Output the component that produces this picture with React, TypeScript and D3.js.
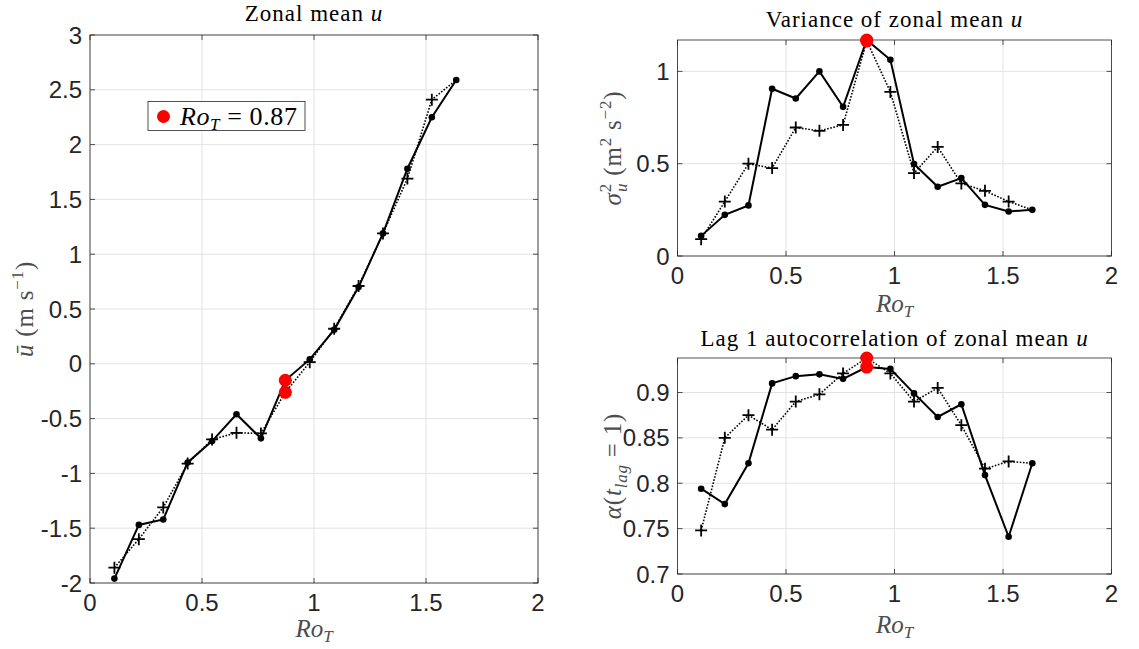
import React from "react";
import * as d3 from "d3";

const roT = [0.109, 0.218, 0.327, 0.436, 0.545, 0.654, 0.763, 0.872, 0.981, 1.09, 1.199, 1.308, 1.417, 1.526, 1.635];

const meanSolid = [-1.96, -1.47, -1.42, -0.9, -0.705, -0.46, -0.68, -0.15, 0.04, 0.31, 0.7, 1.19, 1.78, 2.25, 2.59];
const meanDotted = [-1.86, -1.6, -1.31, -0.91, -0.69, -0.63, -0.635, -0.26, 0.015, 0.32, 0.71, 1.19, 1.69, 2.41, 2.59];

const varSolid = [0.109, 0.223, 0.274, 0.906, 0.853, 1.0, 0.808, 1.17, 1.063, 0.498, 0.375, 0.422, 0.277, 0.241, 0.25];
const varDotted = [0.091, 0.295, 0.5, 0.476, 0.696, 0.678, 0.71, 1.165, 0.889, 0.449, 0.591, 0.393, 0.353, 0.295, 0.25];

const acSolid = [0.794, 0.777, 0.822, 0.91, 0.918, 0.92, 0.915, 0.928, 0.926, 0.899, 0.873, 0.887, 0.809, 0.741, 0.822];
const acDotted = [0.748, 0.85, 0.875, 0.859, 0.89, 0.898, 0.921, 0.938, 0.921, 0.89, 0.905, 0.864, 0.816, 0.824, 0.822];

const redIndex = 7;
const xTicks = [0, 0.5, 1, 1.5, 2];
const meanTicks = [-2, -1.5, -1, -0.5, 0, 0.5, 1, 1.5, 2, 2.5, 3];
const varTicks = [0, 0.5, 1];
const acTicks = [0.7, 0.75, 0.8, 0.85, 0.9];
const legendLabel = "0.87";

const SANS = "'Liberation Sans', Arial, sans-serif";
const SERIF = "'Liberation Serif', 'Times New Roman', serif";
const AX = "#262626";
const LAB = "#4d4d4d";

type PanelProps = {
  left: number; right: number; top: number; bottom: number;
  yDomain: [number, number]; yTicks: number[];
  solid: number[]; dotted: number[];
  title: React.ReactNode; titleY: number;
  yLabel: React.ReactNode; yLabelX: number;
  xLabelY: number;
};

function fmt(v: number) {
  return String(v);
}

function Panel(p: PanelProps) {
  const x = d3.scaleLinear().domain([0, 2]).range([p.left, p.right]);
  const y = d3.scaleLinear().domain(p.yDomain).range([p.bottom, p.top]);
  const line = d3.line<number>().x((_, i) => x(roT[i])).y((d) => y(d));
  const cx = (p.left + p.right) / 2;
  const cy = (p.top + p.bottom) / 2;
  const tl = 5;
  return (
    <g>
      {xTicks.map((t) => (
        <line key={"gx" + t} x1={x(t)} x2={x(t)} y1={p.top} y2={p.bottom} stroke="#e3e3e3" strokeWidth={1} />
      ))}
      {p.yTicks.map((t) => (
        <line key={"gy" + t} x1={p.left} x2={p.right} y1={y(t)} y2={y(t)} stroke="#e3e3e3" strokeWidth={1} />
      ))}
      <rect x={p.left} y={p.top} width={p.right - p.left} height={p.bottom - p.top} fill="none" stroke={AX} strokeWidth={0.8} />
      {xTicks.map((t) => (
        <g key={"tx" + t}>
          <line x1={x(t)} x2={x(t)} y1={p.bottom} y2={p.bottom - tl} stroke={AX} strokeWidth={0.8} />
          <line x1={x(t)} x2={x(t)} y1={p.top} y2={p.top + tl} stroke={AX} strokeWidth={0.8} />
          <text x={x(t)} y={p.bottom + 28} textAnchor="middle" fontFamily={SANS} fontSize={24} fill={AX}>{fmt(t)}</text>
        </g>
      ))}
      {p.yTicks.map((t) => (
        <g key={"ty" + t}>
          <line x1={p.left} x2={p.left + tl} y1={y(t)} y2={y(t)} stroke={AX} strokeWidth={0.8} />
          <line x1={p.right} x2={p.right - tl} y1={y(t)} y2={y(t)} stroke={AX} strokeWidth={0.8} />
          <text x={p.left - 8} y={y(t) + 8.5} textAnchor="end" fontFamily={SANS} fontSize={24} fill={AX}>{fmt(t)}</text>
        </g>
      ))}
      <path d={line(p.dotted) || ""} fill="none" stroke="#000" strokeWidth={1.6} strokeDasharray="1.6 1.6" />
      <path d={line(p.solid) || ""} fill="none" stroke="#000" strokeWidth={2} />
      {p.solid.map((v, i) => (
        <circle key={"s" + i} cx={x(roT[i])} cy={y(v)} r={3.3} fill="#000" />
      ))}
      {p.dotted.slice(0, p.dotted.length - 1).map((v, i) => (
        <path key={"d" + i} d={`M${x(roT[i]) - 6},${y(v)}H${x(roT[i]) + 6}M${x(roT[i])},${y(v) - 6}V${y(v) + 6}`} stroke="#000" strokeWidth={1.8} />
      ))}
      <circle cx={x(roT[redIndex])} cy={y(p.dotted[redIndex])} r={6.5} fill="#ff0000" />
      <circle cx={x(roT[redIndex])} cy={y(p.solid[redIndex])} r={6.5} fill="#ff0000" />
      <text x={cx} y={p.titleY} textAnchor="middle" fontFamily={SERIF} fontSize={23} letterSpacing={1} fill="#000">{p.title}</text>
      <text x={cx} y={p.xLabelY} textAnchor="middle" fontFamily={SERIF} fontSize={25} fill={LAB}>
        <tspan fontStyle="italic">Ro</tspan>
        <tspan fontStyle="italic" fontSize={17} dy={5}>T</tspan>
      </text>
      <text transform={`translate(${p.yLabelX},${cy}) rotate(-90)`} textAnchor="middle" fontFamily={SERIF} fontSize={25} letterSpacing={0.8} fill={LAB}>
        {p.yLabel}
      </text>
    </g>
  );
}

export default function App() {
  const varMax = d3.max([...varSolid, ...varDotted]) as number;
  const acMax = d3.max([...acSolid, ...acDotted]) as number;
  return (
    <svg width={1139} height={649} style={{ position: "absolute", left: 0, top: 0, background: "#fff" }}>
      <rect x={0} y={0} width={1139} height={649} fill="#fff" />
      <Panel
        left={90} right={538} top={35} bottom={583}
        yDomain={[-2, 3]} yTicks={meanTicks}
        solid={meanSolid} dotted={meanDotted}
        title={<><tspan>Zonal mean </tspan><tspan fontStyle="italic">u</tspan></>}
        titleY={21}
        yLabel={<><tspan fontStyle="italic">ū</tspan><tspan> (m s</tspan><tspan fontSize={17} dy={-10}>−1</tspan><tspan dy={10}>)</tspan></>}
        yLabelX={33}
        xLabelY={637}
      />
      <Panel
        left={677.5} right={1111.5} top={40} bottom={256}
        yDomain={[0, varMax]} yTicks={varTicks}
        solid={varSolid} dotted={varDotted}
        title={<><tspan>Variance of zonal mean </tspan><tspan fontStyle="italic">u</tspan></>}
        titleY={27}
        yLabel={<><tspan fontStyle="italic">σ</tspan><tspan fontSize={17} dy={-10}>2</tspan><tspan fontSize={17} fontStyle="italic" dx={-9} dy={16}>u</tspan><tspan dy={-6}> (m</tspan><tspan fontSize={17} dy={-10}>2</tspan><tspan dy={10}> s</tspan><tspan fontSize={17} dy={-10}>−2</tspan><tspan dy={10}>)</tspan></>}
        yLabelX={621}
        xLabelY={312}
      />
      <Panel
        left={677.5} right={1111.5} top={358} bottom={574}
        yDomain={[0.7, acMax]} yTicks={acTicks}
        solid={acSolid} dotted={acDotted}
        title={<><tspan>Lag 1 autocorrelation of zonal mean </tspan><tspan fontStyle="italic">u</tspan></>}
        titleY={346}
        yLabel={<><tspan fontStyle="italic">α</tspan><tspan>(</tspan><tspan fontStyle="italic">t</tspan><tspan fontStyle="italic" fontSize={17} dy={6}>lag</tspan><tspan dy={-6}> = 1)</tspan></>}
        yLabelX={621}
        xLabelY={633}
      />
      <rect x={148} y={101.5} width={157} height={29} fill="#fff" stroke={AX} strokeWidth={0.8} />
      <circle cx={163.5} cy={116.5} r={6.5} fill="#ff0000" />
      <text x={180} y={125} fontFamily={SERIF} fontSize={26} letterSpacing={0.6} fill="#000">
        <tspan fontStyle="italic">Ro</tspan>
        <tspan fontStyle="italic" fontSize={17} dy={5}>T</tspan>
        <tspan dy={-5}>{" = " + legendLabel}</tspan>
      </text>
    </svg>
  );
}
